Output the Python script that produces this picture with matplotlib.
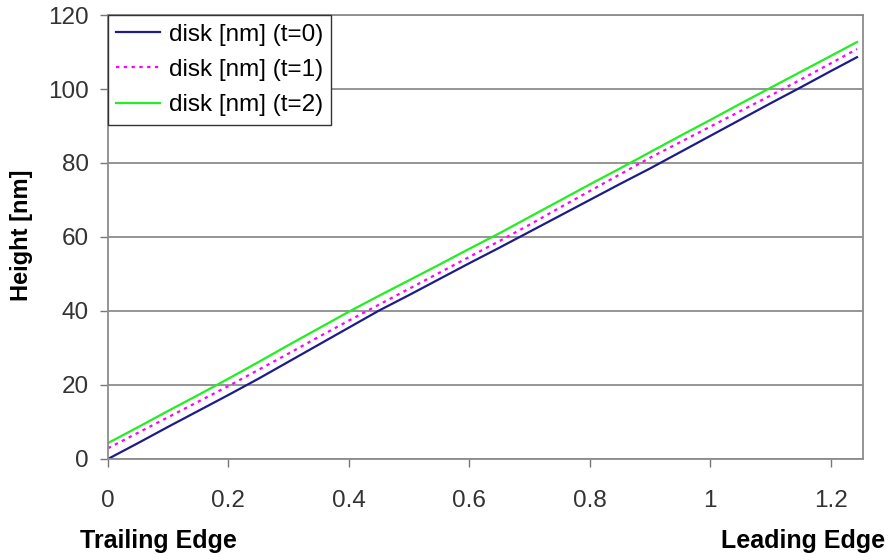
import matplotlib
matplotlib.use('Agg')
import matplotlib.pyplot as plt

plt.rcParams['font.family'] = ['Liberation Sans', 'DejaVu Sans']

# position along slider (x) and disk height for three time steps
x = [0, 0.05, 0.1, 0.15, 0.2, 0.25, 0.3, 0.35, 0.4, 0.45, 0.5, 0.55, 0.6,
     0.65, 0.7, 0.75, 0.8, 0.85, 0.9, 0.95, 1.0, 1.05, 1.1, 1.15, 1.2, 1.244]
disk_t0 = [0, 4.3, 8.7, 13.0, 17.3, 21.7, 26.3, 30.9, 35.5, 40.1, 44.3, 48.6, 52.9,
           57.1, 61.4, 65.7, 70.0, 74.3, 78.5, 82.9, 87.3, 91.7, 96.1, 100.4, 104.8, 108.6]
disk_t1 = [2.9, 7.1, 11.3, 15.5, 19.7, 24.1, 28.5, 33.0, 37.4, 41.7, 46.0, 50.3, 54.6,
           58.9, 63.3, 67.9, 72.4, 76.9, 81.4, 85.6, 89.8, 94.0, 98.2, 102.5, 106.9, 110.8]
disk_t2 = [4.3, 8.6, 13.0, 17.3, 21.7, 26.2, 30.8, 35.3, 39.8, 44.1, 48.3, 52.5, 56.8,
           61.0, 65.4, 69.8, 74.2, 78.5, 82.9, 87.3, 91.6, 96.0, 100.3, 104.6, 108.9, 112.7]

labels = ['disk [nm] (t=0)', 'disk [nm] (t=1)', 'disk [nm] (t=2)']

fig = plt.figure(figsize=(8.9, 5.6), dpi=100)
ax = fig.add_axes([0.1213, 0.1804, 0.8484, 0.7928])

ax.plot(x, disk_t0, color='#1c1c8a', lw=1.6, label=labels[0])
ax.plot(x, disk_t1, color='#ff00ff', lw=1.6, ls=(0, (1.5, 2)), label=labels[1])
ax.plot(x, disk_t2, color='#22ee22', lw=1.6, label=labels[2])

ax.set_xlim(0, 1.254)
ax.set_ylim(0, 120)
ax.set_xticks([0, 0.2, 0.4, 0.6, 0.8, 1, 1.2])
ax.set_xticklabels(['0', '0.2', '0.4', '0.6', '0.8', '1', '1.2'])
ax.set_yticks(range(0, 121, 20))

ax.grid(axis='y', color='#8c8c8c', lw=1.3)
ax.set_axisbelow(True)
for s in ax.spines.values():
    s.set_color('#8c8c8c')
    s.set_linewidth(1.3)
ax.tick_params(axis='both', direction='out', length=6, width=1, color='#777777',
               labelsize=17.5, labelcolor='#333333')
ax.tick_params(axis='x', pad=16)
ax.tick_params(axis='y', pad=8)

ax.set_ylabel('Height [nm]', fontsize=17, fontweight='bold')
ax.yaxis.set_label_coords(-0.099, 0.503)
fig.text(0.09, 0.0214, 'Trailing Edge', fontsize=18, fontweight='bold',
         ha='left', va='baseline')
fig.text(0.994, 0.0214, 'Leading Edge', fontsize=18, fontweight='bold',
         ha='right', va='baseline')

leg = ax.legend(loc='upper left', bbox_to_anchor=(0, 1), borderaxespad=0,
                fontsize=17.5, fancybox=False, framealpha=1, edgecolor='#333333',
                handlelength=1.8, handletextpad=0.35, borderpad=0.35, labelspacing=0.55)
leg.get_frame().set_linewidth(1.0)

fig.savefig('out.png', dpi=100)
